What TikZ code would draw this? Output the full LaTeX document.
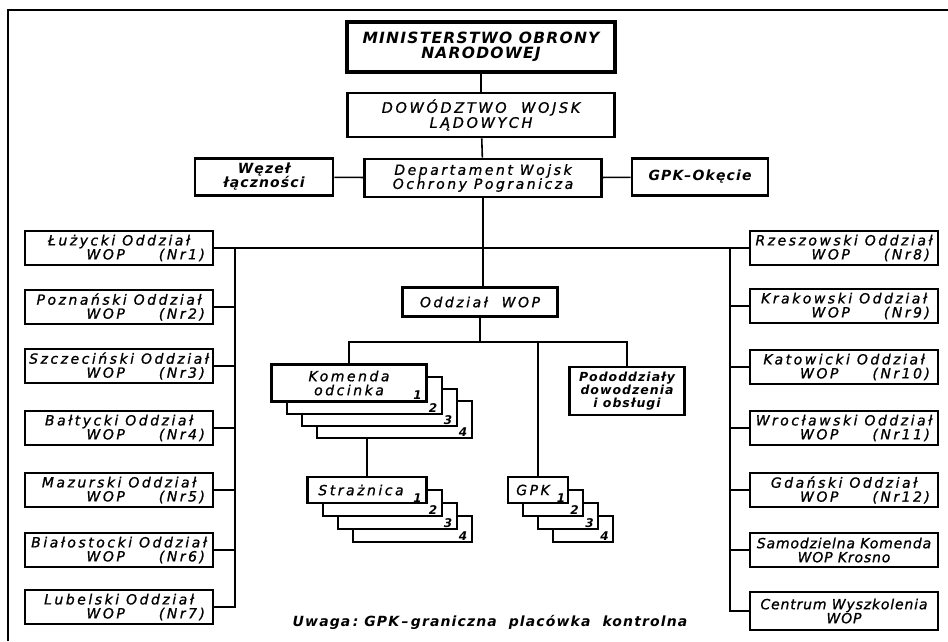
\documentclass[tikz,border=0pt]{standalone}
\usepackage{fontspec}
\usetikzlibrary{positioning}

\newfontfamily\wopfont[LetterSpace=18,FakeBold=1]{DejaVu Sans}
\newfontfamily\wopbold[LetterSpace=8]{DejaVu Sans}
\newfontfamily\wopwaski[LetterSpace=6,FakeBold=1]{DejaVu Sans}

\newcommand{\napis}{\wopfont\itshape\fontsize{14}{14}\selectfont}
\newcommand{\napisduzy}{\wopfont\itshape\fontsize{14.5}{15}\selectfont}
\newcommand{\napisgl}{\wopbold\bfseries\itshape\fontsize{15.5}{15.5}\selectfont}
\newcommand{\napisb}{\wopbold\bfseries\itshape\fontsize{14}{14}\selectfont}
\newcommand{\napism}{\wopbold\bfseries\itshape\fontsize{12.5}{13}\selectfont}
\newcommand{\napisu}{\wopbold\bfseries\itshape\fontsize{14}{14}\selectfont}
\newcommand{\napisw}{\wopwaski\itshape\fontsize{14}{14}\selectfont}
\newcommand{\napisnr}{\wopbold\bfseries\itshape\fontsize{12}{12}\selectfont}

% dwuwierszowy opis oddzialu
\newcommand{\oddz}[2]{#1 Oddział\\\makebox[172pt][r]{WOP\hspace{34pt}(Nr#2)}}

\tikzset{
  pudlo/.style={draw, line width=2.8pt, fill=white, inner sep=0pt, align=center, font=\napis},
  glowny/.style={pudlo, line width=3.8pt, minimum width=268pt, minimum height=50pt, font=\napisgl},
  tlusty/.style={pudlo, font=\napisb},
  oddzial/.style={pudlo, minimum width=188pt, minimum height=34pt},
  kopia/.style={draw, line width=2pt, fill=white, inner sep=0pt},
  numer/.style={anchor=south east, inner sep=0pt, font=\napisnr},
  linia/.style={line width=1.6pt}
}

\begin{document}
\begin{tikzpicture}[x=1pt,y=-1pt]
\useasboundingbox (0,0) rectangle (948,641);

% Ramka
\draw[line width=2.5pt] (8,641) -- (8,10) -- (948,10);

% Szczebel centralny
\node[glowny] (mon) at (481,47) {MINISTERSTWO OBRONY\\NARODOWEJ};
\node[pudlo, minimum width=267pt, minimum height=44pt, font=\napisduzy] (dwl) at (481,115) {DOWÓDZTWO\ \ WOJSK\\LĄDOWYCH};
\node[pudlo, minimum width=237pt, minimum height=38pt] (dep) at (483,178) {Departament Wojsk\\Ochrony Pogranicza};
\node[tlusty, minimum width=138pt, minimum height=37pt] (wez) at (264,177) {Węzeł\\łączności};
\node[tlusty, minimum width=136pt, minimum height=37pt] (oke) at (700,177) {GPK–Okęcie};

% Oddzialy - lewa kolumna
\node[oddzial] (luz) at (119,248) {\oddz{Łużycki}{1}};
\node[oddzial] (poz) at (119,307) {\oddz{Poznański}{2}};
\node[oddzial] (szc) at (119,366) {\oddz{Szczeciński}{3}};
\node[oddzial] (bal) at (119,428) {\oddz{Bałtycki}{4}};
\node[oddzial] (maz) at (119,490) {\oddz{Mazurski}{5}};
\node[oddzial] (bia) at (119,550) {\oddz{Białostocki}{6}};
\node[oddzial] (lub) at (119,607) {\oddz{Lubelski}{7}};

% Oddzialy - prawa kolumna
\node[oddzial] (rze) at (844,248) {\oddz{Rzeszowski}{8}};
\node[oddzial] (kra) at (844,306) {\oddz{Krakowski}{9}};
\node[oddzial] (kat) at (844,367) {\oddz{Katowicki}{10}};
\node[oddzial] (wro) at (844,428) {\oddz{Wrocławski}{11}};
\node[oddzial] (gda) at (844,490) {\oddz{Gdański}{12}};
\node[oddzial, font=\napisw] (sam) at (844,550) {Samodzielna Komenda\\WOP Krosno};
\node[oddzial, font=\napisw, minimum height=38pt] (cen) at (844,611) {Centrum Wyszkolenia\\WOP};

% Struktura oddzialu
\node[pudlo, minimum width=155pt, minimum height=29pt] (odz) at (480,302) {Oddział\ \ WOP};
\coordinate (odzb) at (480,342);

% Komendy odcinka 1-4
\node[kopia, minimum width=155pt, minimum height=37pt] (kom4) at (394,419) {};
\node[numer] (kom-n4) at ([xshift=-5pt,yshift=2pt]kom4.south east) {4};
\node[kopia, minimum width=155pt, minimum height=37pt] (kom3) at (379,407) {};
\node[numer] (kom-n3) at ([xshift=-5pt,yshift=2pt]kom3.south east) {3};
\node[kopia, minimum width=155pt, minimum height=37pt] (kom2) at (364,395) {};
\node[numer] (kom-n2) at ([xshift=-5pt,yshift=2pt]kom2.south east) {2};
\node[pudlo, minimum width=155pt, minimum height=37pt] (kom) at (349,383) {Komenda\\odcinka};
\node[numer] (kom-n1) at ([xshift=-6pt,yshift=3pt]kom.south east) {1};

\node[pudlo, font=\napism, minimum width=115pt, minimum height=48pt] (pod) at (627,391) {Pododdziały\\dowodzenia\\i obsługi};

% Straznice 1-4
\node[kopia, minimum width=119pt, minimum height=26pt] (str4) at (412,529) {};
\node[numer] (str-n4) at ([xshift=-5pt,yshift=2pt]str4.south east) {4};
\node[kopia, minimum width=119pt, minimum height=26pt] (str3) at (397,516) {};
\node[numer] (str-n3) at ([xshift=-5pt,yshift=2pt]str3.south east) {3};
\node[kopia, minimum width=119pt, minimum height=26pt] (str2) at (382,503) {};
\node[numer] (str-n2) at ([xshift=-5pt,yshift=2pt]str2.south east) {2};
\node[pudlo, minimum width=119pt, minimum height=26pt] (str) at (367,490) {Strażnica\hspace{12pt}};
\node[numer] (str-n1) at ([xshift=-6pt,yshift=2pt]str.south east) {1};

% GPK 1-4
\node[kopia, minimum width=60pt, minimum height=26pt] (gpk4) at (583,529) {};
\node[numer] (gpk-n4) at ([xshift=-5pt,yshift=2pt]gpk4.south east) {4};
\node[kopia, minimum width=60pt, minimum height=26pt] (gpk3) at (568,516) {};
\node[numer] (gpk-n3) at ([xshift=-5pt,yshift=2pt]gpk3.south east) {3};
\node[kopia, minimum width=60pt, minimum height=26pt] (gpk2) at (553,503) {};
\node[numer] (gpk-n2) at ([xshift=-5pt,yshift=2pt]gpk2.south east) {2};
\node[pudlo, minimum width=60pt, minimum height=26pt] (gpk) at (538,490) {GPK\hspace{10pt}};
\node[numer] (gpk-n1) at ([xshift=-4pt,yshift=2pt]gpk.south east) {1};

% Uwaga
\node[font=\napisu, inner sep=0pt] (uwaga) at (490,622) {Uwaga\,:\ GPK\,–\,graniczna\ \ placówka\ \ kontrolna};

% Polaczenia
\draw[linia] (mon) -- (dwl);
\draw[linia] (dwl) -- (dep);
\draw[linia] (wez) -- (dep);
\draw[linia] (dep) -- (oke);
\draw[linia] (dep.south) -- (dep.south |- odz.north);
\draw[linia] (luz.east) -- (rze.west);

\coordinate (lsz) at (235,248);
\draw[linia] (lsz) |- (lub.east);
\draw[linia] (poz.east) -- (poz.east -| lsz);
\draw[linia] (szc.east) -- (szc.east -| lsz);
\draw[linia] (bal.east) -- (bal.east -| lsz);
\draw[linia] (maz.east) -- (maz.east -| lsz);
\draw[linia] (bia.east) -- (bia.east -| lsz);

\coordinate (psz) at (730,248);
\draw[linia] (psz) |- (cen.west);
\draw[linia] (kra.west) -- (kra.west -| psz);
\draw[linia] (kat.west) -- (kat.west -| psz);
\draw[linia] (wro.west) -- (wro.west -| psz);
\draw[linia] (gda.west) -- (gda.west -| psz);
\draw[linia] (sam.west) -- (sam.west -| psz);

\draw[linia] (odz) -- (odzb);
\draw[linia] (kom.north) |- (odzb) -| (pod.north);
\draw[linia] (gpk.north) -- (gpk.north |- odzb);
\draw[linia] (str.north) -- (str.north |- kom4.south);

\end{tikzpicture}
\end{document}
